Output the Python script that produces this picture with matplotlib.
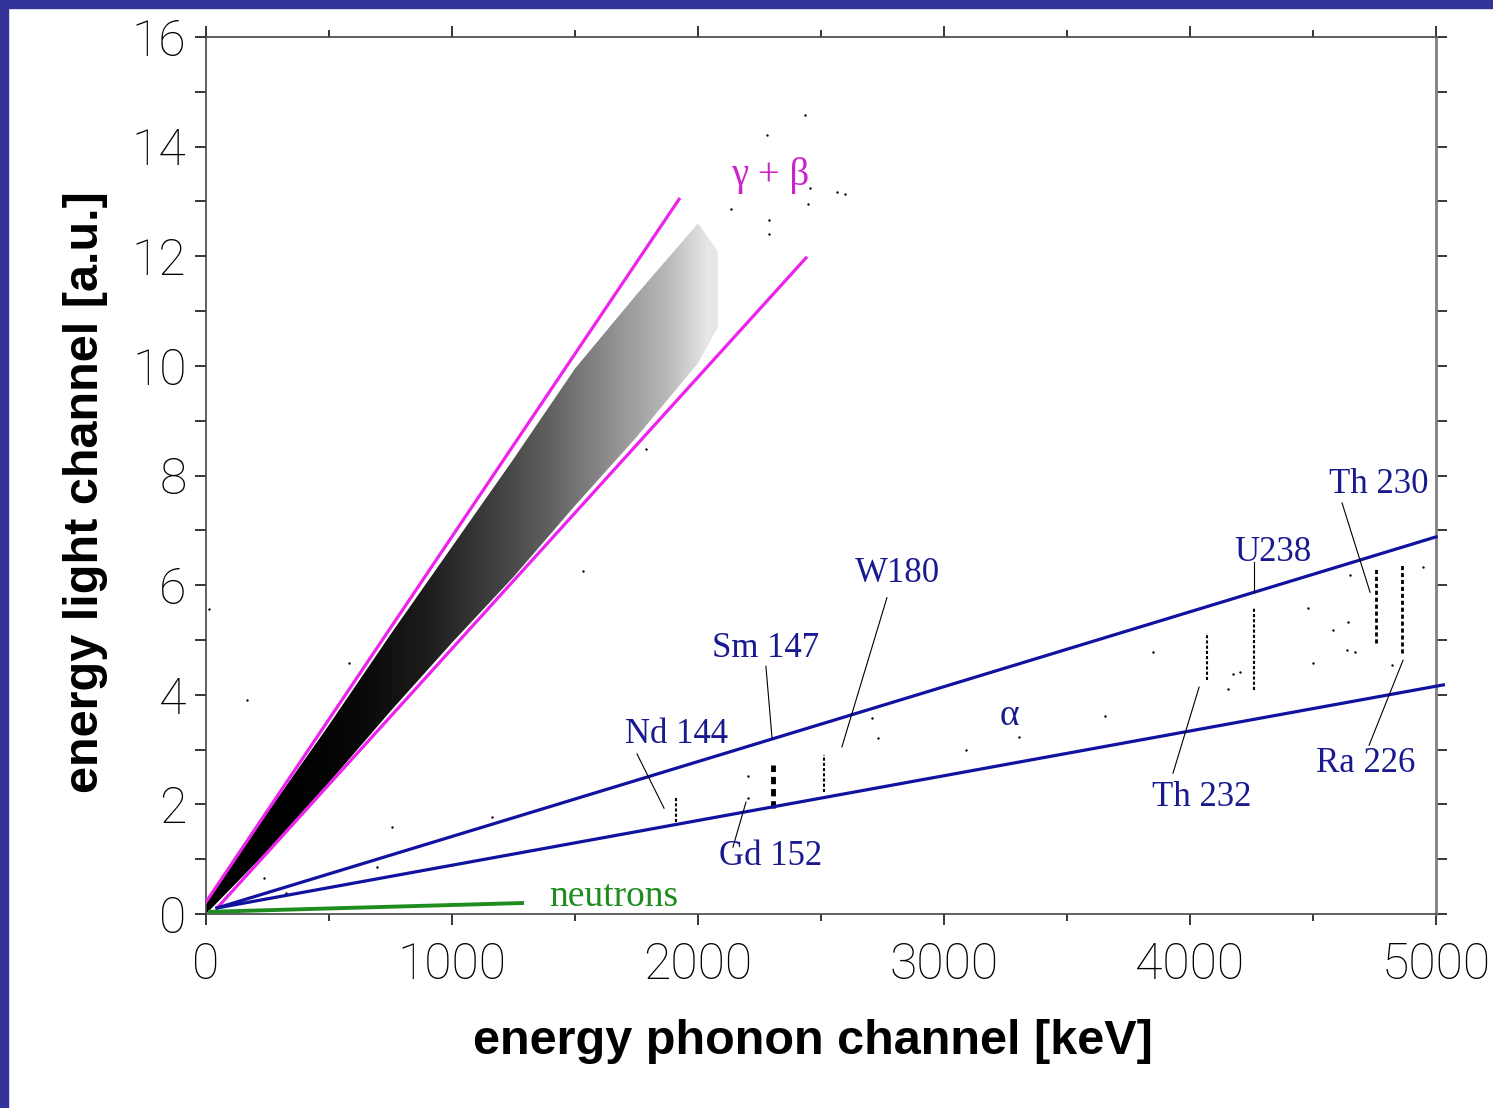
import numpy as np
import matplotlib.pyplot as plt
from matplotlib.patches import Rectangle, Polygon

# eixos
x_major = [0, 1000, 2000, 3000, 4000, 5000]
x_minor = [500, 1500, 2500, 3500, 4500]
y_major = [0, 2, 4, 6, 8, 10, 12, 14, 16]
y_minor = [1, 3, 5, 7, 9, 11, 13, 15]

# banda gamma + beta (bordas) e densidade de pontos por trecho
band_x = [0, 250, 500, 750, 1000, 1250, 1500, 1750, 2000, 2080]
band_top = [0.2, 1.85, 3.45, 5.1, 6.7, 8.3, 9.95, 11.3, 12.6, 12.1]
band_bot = [0.0, 1.15, 2.4, 3.7, 4.95, 6.15, 7.45, 8.7, 10.05, 10.7]
dens_x = [125, 375, 625, 875, 1125, 1375, 1625, 1875, 2040]
band_density = [1.0, 1.0, 0.97, 0.9, 0.78, 0.64, 0.46, 0.28, 0.1]

# linhas de separação
gb_hi_x, gb_hi_y = [0, 1923], [0.22, 13.04]
gb_lo_x, gb_lo_y = [45, 2439], [0.11, 11.97]
al_hi_x, al_hi_y = [45, 5000], [0.11, 6.88]
al_lo_x, al_lo_y = [45, 5030], [0.11, 4.18]
neu_x, neu_y = [16, 1285], [0.04, 0.2]

# linhas alfa (faixas verticais)
streak_x = [1911, 2305, 2512, 4069, 4260, 4756, 4862]
streak_lo = [1.68, 1.93, 2.23, 4.27, 4.09, 4.94, 4.76]
streak_hi = [2.12, 2.72, 2.9, 5.13, 5.58, 6.31, 6.37]
streak_lw = [1.5, 3.5, 1.5, 1.5, 1.5, 2.0, 2.0]

# eventos isolados
stray_x = [12, 167, 581, 756, 1163, 1533, 695, 236, 325, 1789, 2280, 2134, 2289, 2289,
           2455, 2447, 2565, 2598, 2435, 3850, 3654, 3305, 3089, 2732, 2707, 4203,
           4175, 4154, 4480, 4500, 4581, 4650, 4642, 4638, 4671, 4821, 4947, 2203, 2203]
stray_y = [5.56, 3.9, 4.58, 1.59, 1.77, 6.26, 0.86, 0.66, 0.38, 8.48, 14.21, 12.86, 12.66, 12.4,
           13.25, 12.95, 13.17, 13.14, 14.58, 4.78, 3.61, 3.23, 2.99, 3.21, 3.58, 4.42,
           4.38, 4.1, 5.58, 4.58, 5.18, 6.18, 5.33, 4.82, 4.78, 4.54, 6.33, 2.52, 2.12]

# rótulos dos isótopos e linhas de indicação
iso_names = ['Nd 144', 'Sm 147', 'W180', 'Gd 152', 'Th 232', 'U238', 'Th 230', 'Ra 226']
iso_tx = [1911, 2276, 2809, 2293, 4049, 4337, 4768, 4715]
iso_ty = [3.27, 4.85, 6.22, 1.04, 2.13, 6.59, 7.83, 2.75]
lead_x0 = [1752, 2276, 2768, 2195, 4037, 4260, 4618, 4866]
lead_y0 = [2.92, 4.52, 5.77, 2.04, 4.14, 6.42, 7.5, 4.63]
lead_x1 = [1862, 2301, 2585, 2142, 3931, 4260, 4732, 4728]
lead_y1 = [1.93, 3.21, 3.05, 1.22, 2.57, 5.87, 5.87, 3.08]

magenta = '#ee22ee'
blue = '#1212a0'
txt_blue = '#1a1a90'
green = '#1e8c1e'

fig = plt.figure(figsize=(14.93, 11.08), dpi=100)
W, H = 1493, 1108
# moldura azul
fig.patches.append(Rectangle((0, 0), 8 / W, 1, transform=fig.transFigure, color='#333399', zorder=0))
fig.patches.append(Rectangle((0, 1 - 8 / H), 1, 8 / H, transform=fig.transFigure, color='#333399', zorder=0))

ax = fig.add_axes([206 / W, 1 - 914 / H, 1230 / W, 877 / H])
ax.set_xlim(0, 5000)
ax.set_ylim(0, 16)

# banda: degradê de cinza recortado pelo contorno da banda
outline = list(zip(band_x, band_top)) + list(zip(band_x[::-1], band_bot[::-1]))
poly = Polygon(outline, closed=True, facecolor='none', edgecolor='none')
ax.add_patch(poly)
gx = np.linspace(0, 2100, 400)
alpha_row = np.interp(gx, dens_x, band_density)
img = np.zeros((2, len(gx), 4))
img[..., 3] = alpha_row
im = ax.imshow(img, extent=[0, 2100, 0, 13], origin='lower', aspect='auto',
               interpolation='bilinear', zorder=2)
im.set_clip_path(poly)

ax.vlines(streak_x, streak_lo, streak_hi, colors='black', linewidths=streak_lw,
          linestyles=(0, (1.5, 1.0)), zorder=2)
ax.scatter(stray_x, stray_y, s=3, color='black', lw=0, zorder=2)

ax.plot(gb_hi_x, gb_hi_y, color=magenta, lw=2.3, zorder=3)
ax.plot(gb_lo_x, gb_lo_y, color=magenta, lw=2.3, zorder=3)
ax.plot(al_hi_x, al_hi_y, color=blue, lw=2.3, zorder=3, clip_on=False)
ax.plot(al_lo_x, al_lo_y, color=blue, lw=2.3, zorder=3, clip_on=False)
ax.plot(neu_x, neu_y, color=green, lw=2.8, zorder=3)

for i in range(len(iso_names)):
    ax.plot([lead_x0[i], lead_x1[i]], [lead_y0[i], lead_y1[i]], color='black', lw=0.8, zorder=3)
    ax.text(iso_tx[i], iso_ty[i], iso_names[i], color=txt_blue, fontsize=25,
            family='Liberation Serif', ha='center', va='center')

ax.text(3268, 3.61, 'α', color=txt_blue, fontsize=27, family='Liberation Serif',
        ha='center', va='center')
ax.text(2293, 13.48, 'γ + β', color='#cc22cc', fontsize=28, family='Liberation Serif',
        ha='center', va='center')
ax.text(1394, 0.31, 'neutrons', color=green, fontsize=27, family='Liberation Serif',
        ha='left', va='center')

# ticks
ax.set_xticks(x_major)
ax.set_xticks(x_minor, minor=True)
ax.set_yticks(y_major)
ax.set_yticks(y_minor, minor=True)
ax.set_xticklabels([str(v) for v in x_major], fontfamily='Roboto', fontweight='light', fontsize=36)
ax.set_yticklabels([str(v) for v in y_major], fontfamily='Roboto', fontweight='light', fontsize=36)
ax.tick_params(which='both', direction='out', top=True, right=True, color='black', width=1.1)
ax.tick_params(which='major', length=8)
ax.xaxis.set_tick_params(which='minor', length=5)
ax.yaxis.set_tick_params(which='minor', length=8)
ax.tick_params(axis='x', pad=12)
ax.tick_params(axis='y', pad=6)

for s in ['left', 'bottom', 'top']:
    ax.spines[s].set_color('#444444')
    ax.spines[s].set_linewidth(1.2)
ax.spines['right'].set_color('#808080')
ax.spines['right'].set_linewidth(2)

fig.text(86 / W, 1 - 492 / H, 'energy light channel [a.u.]', rotation=90, fontsize=35,
         fontweight='bold', family='Liberation Sans', ha='center', va='center')
fig.text(813 / W, 1 - 1042 / H, 'energy phonon channel [keV]', fontsize=35,
         fontweight='bold', family='Liberation Sans', ha='center', va='center')

fig.savefig('out.png', dpi=100)
